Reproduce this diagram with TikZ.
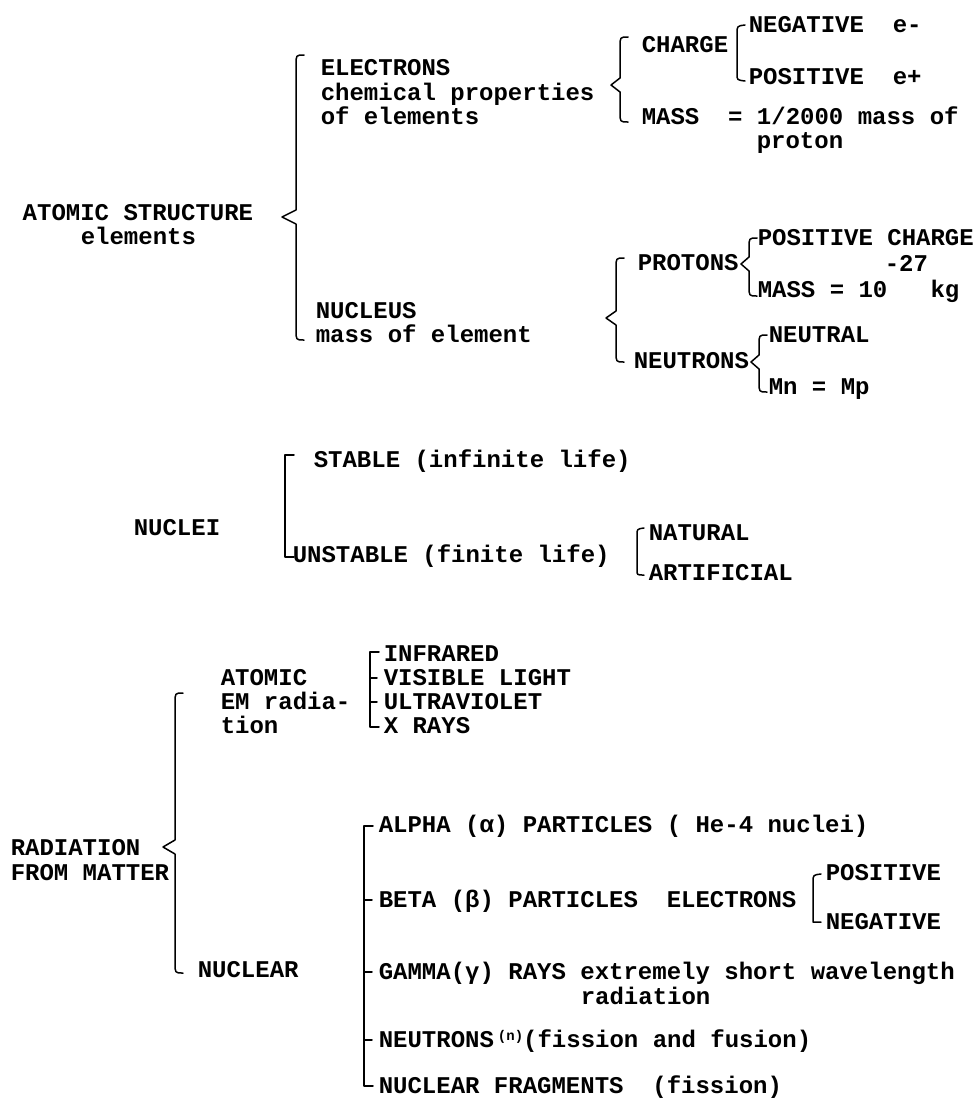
\documentclass[tikz,border=0pt]{standalone}
\usepackage{fontspec}
\setmainfont{Liberation Mono}
\newcommand{\curlyL}[5]{%
  \draw (#1+8,#2) .. controls (#1,#2) .. (#1,#2+10) -- (#1,#3-7) -- (#1-#5,#3) -- (#1,#3+7) -- (#1,#4-10) .. controls (#1,#4) .. (#1+8,#4);}
\newcommand{\sqbrL}[4]{%
  \draw (#1+#4,#2) -- (#1,#2) -- (#1,#3) -- (#1+#4,#3);}
\begin{document}
\begin{tikzpicture}[x=1pt,y=-1pt, line width=1.5pt, line cap=round, line join=round,
  txt/.style={font=\fontsize{24}{24}\selectfont\bfseries, inner sep=0pt, anchor=base west}]
\useasboundingbox[fill=white] (0,0) rectangle (976,1101);

% ---------- ATOMIC STRUCTURE ----------
\node[txt] (atom1) at (22,220) {ATOMIC STRUCTURE};
\node[txt] (atom2) at (80,244) {elements};
\curlyL{296}{55}{217}{340}{14}

\node[txt] (el1) at (320,75) {ELECTRONS};
\node[txt] (el2) at (320,100) {chemical properties};
\node[txt] (el3) at (320,124) {of elements};
\curlyL{620}{37}{85}{122}{9}

\node[txt] (charge) at (641,52) {CHARGE};
\node[txt] (neg) at (748,32) {NEGATIVE~~e-};
\node[txt] (pos) at (748,84) {POSITIVE~~e+};
\draw (745,25) .. controls (737,26) .. (737,34) -- (737,74) .. controls (737,80) .. (745,81);
\node[txt] (mass) at (641,124) {MASS~~= 1/2000 mass of};
\node[txt] (proton) at (756,148) {proton};

\node[txt] (nuc1) at (315,318) {NUCLEUS};
\node[txt] (nuc2) at (315,342) {mass of element};
\curlyL{616}{258}{318}{362}{10}

\node[txt] (prot) at (637,270) {PROTONS};
\curlyL{749}{238}{264}{296}{8}
\node[txt] (pp1) at (757,245) {POSITIVE CHARGE};
\node[txt] (exp) at (884,271) {-27};
\node[txt] (pp2) at (757,297) {MASS = 10~~~kg};

\node[txt] (neut) at (633,368) {NEUTRONS};
\curlyL{759}{335}{362}{392}{8}
\node[txt] (nn1) at (768,342) {NEUTRAL};
\node[txt] (nn2) at (768,394) {Mn = Mp};

% ---------- NUCLEI ----------
\node[txt] (nuclei) at (133,535) {NUCLEI};
\sqbrL{285}{455}{557}{9}
\node[txt] (stab) at (313,467) {STABLE (infinite life)};
\node[txt] (unst) at (292,562) {UNSTABLE (finite life)};
\draw (644,528) .. controls (637,529) .. (637,535) -- (637,570) .. controls (637,575) .. (644,575);
\node[txt] (nat) at (648,540) {NATURAL};
\node[txt] (art) at (648,580) {ARTIFICIAL};

% ---------- RADIATION ----------
\node[txt] (rad1) at (10,855) {RADIATION};
\node[txt] (rad2) at (10,880) {FROM MATTER};
\curlyL{175}{693}{847}{973}{12}

\node[txt] (at1) at (220,685) {ATOMIC};
\node[txt] (at2) at (220,709) {EM radia-};
\node[txt] (at3) at (220,733) {tion};
\sqbrL{370}{652}{727}{9}
\draw (370,678) -- ++(7,0) (370,702) -- ++(7,0);
\node[txt] (inf) at (383,661) {INFRARED};
\node[txt] (vis) at (383,685) {VISIBLE LIGHT};
\node[txt] (ult) at (383,709) {ULTRAVIOLET};
\node[txt] (xr) at (383,733) {X RAYS};

\node[txt] (nuclear) at (197,977) {NUCLEAR};
\sqbrL{364}{826}{1086}{9}
\draw (364,900) -- ++(8,0) (364,972) -- ++(8,0) (364,1040) -- ++(8,0);
\node[txt] (alpha) at (378,832) {ALPHA (α) PARTICLES ( He-4 nuclei)};
\node[txt] (beta) at (378,907) {BETA (β) PARTICLES~~ELECTRONS};
\draw (821,874) .. controls (813,875) .. (813,882) -- (813,922) -- (821,922);
\node[txt] (bpos) at (825,880) {POSITIVE};
\node[txt] (bneg) at (825,929) {NEGATIVE};
\node[txt] (gamma) at (378,979) {GAMMA(γ) RAYS extremely short wavelength};
\node[txt] (gam2) at (580,1004) {radiation};
\node[txt] (neutr) at (378,1047) {NEUTRONS\,{\fontsize{14}{14}\selectfont\raisebox{7pt}{(n)}}(fission and fusion)};
\node[txt] (frag) at (378,1093) {NUCLEAR FRAGMENTS~~(fission)};
\end{tikzpicture}
\end{document}
